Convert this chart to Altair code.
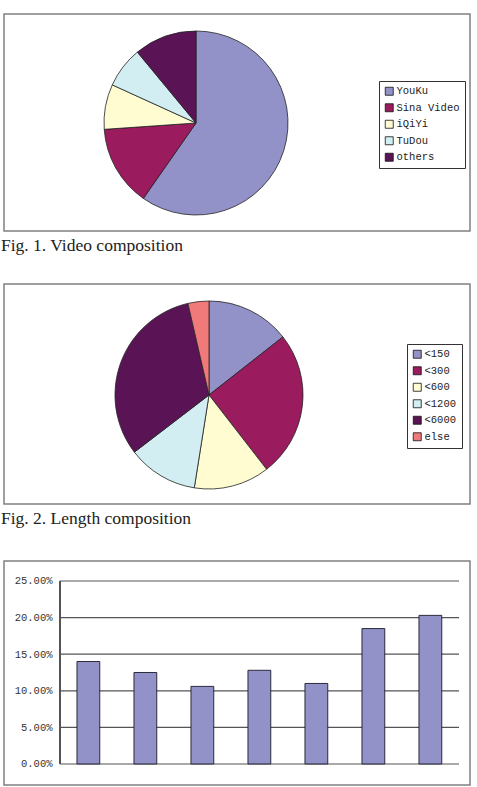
import altair as alt
import pandas as pd

# ---- data ----
video_names = ["YouKu", "Sina Video", "iQiYi", "TuDou", "others"]
video_share = [59.7, 14.2, 7.9, 7.2, 11.0]

length_names = ["<150", "<300", "<600", "<1200", "<6000", "else"]
length_share = [14.4, 25.1, 13.0, 12.1, 31.8, 3.6]

bar_cats = ["1", "2", "3", "4", "5", "6", "7"]
bar_values = [14.0, 12.5, 10.6, 12.8, 11.0, 18.5, 20.3]
y_ticks = [0, 5, 10, 15, 20, 25]

pie_colors5 = ["#9292C8", "#9A1B5E", "#FEFCD0", "#D2EEF2", "#5A1456"]
pie_colors6 = ["#9292C8", "#9A1B5E", "#FEFCD0", "#D2EEF2", "#5A1456", "#F07A7A"]
bar_color = "#9292C8"

MONO = "Liberation Mono"
SERIF = "Liberation Serif"

video_df = pd.DataFrame({"name": video_names, "share": video_share,
                         "idx": list(range(len(video_names)))})
length_df = pd.DataFrame({"name": length_names, "share": length_share,
                          "idx": list(range(len(length_names)))})
bar_df = pd.DataFrame({"cat": bar_cats, "value": bar_values})
tick_df = pd.DataFrame({"v": y_ticks})


def caption(text):
    return alt.TitleParams(text, orient="bottom", anchor="start", font=SERIF,
                           fontSize=17.5, fontWeight="normal", color="#222222",
                           offset=6, dx=-3)


def legend(x, y):
    return alt.Legend(orient="none", legendX=x, legendY=y, title=None,
                      strokeColor="#333333", padding=5, symbolType="square",
                      symbolSize=64, symbolStrokeColor="#111111",
                      symbolStrokeWidth=0.8, labelFont=MONO, labelFontSize=10.5,
                      labelColor="#222222", rowPadding=4.5, labelOffset=2,
                      fillColor="white")


pie1 = alt.Chart(video_df).mark_arc(radius=92, stroke="#222222",
                                     strokeWidth=0.8).encode(
    theta=alt.Theta("share:Q", stack=True),
    order=alt.Order("idx:Q"),
    color=alt.Color("name:N", sort=video_names,
                    scale=alt.Scale(domain=video_names, range=pie_colors5),
                    legend=legend(375, 67)),
    x=alt.value(192),
    y=alt.value(109),
).properties(width=466, height=217, title=caption("Fig. 1. Video composition"))

pie2 = alt.Chart(length_df).mark_arc(radius=94, stroke="#222222",
                                      strokeWidth=0.8).encode(
    theta=alt.Theta("share:Q", stack=True),
    order=alt.Order("idx:Q"),
    color=alt.Color("name:N", sort=length_names,
                    scale=alt.Scale(domain=length_names, range=pie_colors6),
                    legend=legend(403, 60)),
    x=alt.value(205),
    y=alt.value(111),
).properties(width=466, height=220, title=caption("Fig. 2. Length composition"))

yscale = alt.Scale(domain=[-2.87, 27.73], nice=False, zero=False)
xscale = alt.Scale(paddingInner=0.6, paddingOuter=0.8877, align=0.721)

grid = alt.Chart(tick_df).mark_rule(color="#555555", strokeWidth=1.2).encode(
    y=alt.Y("v:Q", scale=yscale, axis=alt.Axis(
        values=y_ticks, labelExpr="format(datum.value, '.2f') + '%'",
        offset=-56, domain=False, ticks=False, grid=False, title=None,
        labelFont=MONO, labelFontSize=10.5, labelColor="#333333",
        labelPadding=8)),
    x=alt.value(56),
    x2=alt.value(455),
)

axis_line = alt.Chart(tick_df).mark_rule(color="#555555", strokeWidth=1.2).encode(
    x=alt.value(56),
    y=alt.datum(0, scale=yscale),
    y2=alt.datum(25),
)

bars = alt.Chart(bar_df).mark_bar(color=bar_color, stroke="#1a1a2a",
                                  strokeWidth=0.9).encode(
    x=alt.X("cat:N", sort=bar_cats, scale=xscale, axis=None),
    y=alt.Y("value:Q", scale=yscale),
)

bar_chart = alt.layer(grid, axis_line, bars).properties(width=466, height=224)

pies = alt.vconcat(pie1, pie2, spacing=27).resolve_scale(
    color="independent", theta="independent"
).resolve_legend(color="independent")

chart = alt.vconcat(pies, bar_chart, spacing=31).resolve_scale(
    color="independent", theta="independent"
).resolve_legend(color="independent").configure(
    padding={"left": 0, "top": 13, "right": 0, "bottom": 0},
    background="white",
).configure_view(stroke="#808080", strokeWidth=1.5)

chart.save("out.html", embed_options={"renderer": "svg", "actions": False})
